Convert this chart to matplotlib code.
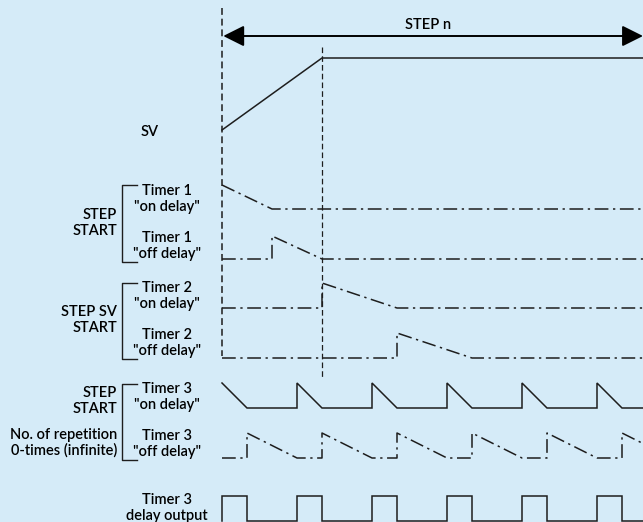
import matplotlib
matplotlib.use("Agg")
import matplotlib.pyplot as plt

# time axis in units of one delay (t=0 is step start), end of view
t_end = 16.84

# SV ramp
sv_t = [0, 4, t_end]
sv_v = [0, 1, 1]

# timer signals (level 1 = remaining delay full, 0 = elapsed)
t1_on_t = [0, 2, t_end]
t1_on_v = [1, 0, 0]
t1_off_t = [0, 2, 2, 4, t_end]
t1_off_v = [0, 0, 1, 0, 0]
t2_on_t = [0, 4, 4, 7, t_end]
t2_on_v = [0, 0, 1, 0, 0]
t2_off_t = [0, 7, 7, 10, t_end]
t2_off_v = [0, 0, 1, 0, 0]
t3_on_t = [0, 1, 3, 3, 4, 6, 6, 7, 9, 9, 10, 12, 12, 13, 15, 15, 16, t_end]
t3_on_v = [1, 0, 0, 1, 0, 0, 1, 0, 0, 1, 0, 0, 1, 0, 0, 1, 0, 0]
t3_off_t = [0, 1, 1, 3, 4, 4, 6, 7, 7, 9, 10, 10, 12, 13, 13, 15, 16, 16, t_end]
t3_off_v = [0, 0, 1, 0, 0, 1, 0, 0, 1, 0, 0, 1, 0, 0, 1, 0, 0, 1, 0.58]
t3_out_t = [0, 0, 1, 1, 3, 3, 4, 4, 6, 6, 7, 7, 9, 9, 10, 10, 12, 12, 13, 13, 15, 15, 16, 16, t_end]
t3_out_v = [0, 1, 1, 0, 0, 1, 1, 0, 0, 1, 1, 0, 0, 1, 1, 0, 0, 1, 1, 0, 0, 1, 1, 0, 0]

bg = "#d5ebf8"
ink = "#1e1e1e"
fam = ["Lato", "DejaVu Sans"]
fs = 10.5
fw = "semibold"

fig = plt.figure(figsize=(6.43, 5.22), dpi=100, facecolor=bg)
ax = fig.add_axes([0, 0, 1, 1])
ax.set_facecolor(bg)
# 1 time unit = 25 px, t=0 at x=222 px; y in pixels from top
ax.set_xlim(-222 / 25, (643 - 222) / 25)
ax.set_ylim(522, 0)
ax.axis("off")

dashdot = (0, (9, 3, 1.5, 3))


def sig(t, v, base, amp, ls="-"):
    ax.plot(t, [base - amp * x for x in v], color=ink, lw=1.1, ls=ls,
            solid_joinstyle="miter")


sig(sv_t, sv_v, 130, 72)
sig(t1_on_t, t1_on_v, 209, 24, dashdot)
sig(t1_off_t, t1_off_v, 259, 23, dashdot)
sig(t2_on_t, t2_on_v, 308, 25, dashdot)
sig(t2_off_t, t2_off_v, 358, 25, dashdot)
sig(t3_on_t, t3_on_v, 408, 25)
sig(t3_off_t, t3_off_v, 458, 25, dashdot)
sig(t3_out_t, t3_out_v, 521, 25)

# reference lines
ax.plot([0, 0], [8, 356], color=ink, lw=1.1, ls=(0, (4.5, 2.5)))
ax.plot([4, 4], [47, 378], color=ink, lw=0.9, ls=(0, (4.5, 2.5)))

# STEP n arrow
ax.annotate("", xy=(t_end, 36), xytext=(0.05, 36), annotation_clip=False,
            arrowprops=dict(arrowstyle="<|-|>,head_length=0.8,head_width=0.4",
                            color="black", lw=1.4,
                            mutation_scale=16, shrinkA=0, shrinkB=0))
ax.text((428 - 222) / 25, 25, "STEP n", ha="center", va="center",
        fontsize=fs, family=fam, weight=fw)

ax.text((150 - 222) / 25, 132, "SV", ha="center", va="center",
        fontsize=fs, family=fam, weight=fw)

# timer labels
labels = [
    ("Timer 1\n\"on delay\"", 199),
    ("Timer 1\n\"off delay\"", 246),
    ("Timer 2\n\"on delay\"", 296),
    ("Timer 2\n\"off delay\"", 343),
    ("Timer 3\n\"on delay\"", 397),
    ("Timer 3\n\"off delay\"", 444),
    ("Timer 3\ndelay output", 508),
]
for txt, y in labels:
    ax.text((167 - 222) / 25, y, txt, ha="center", va="center",
            fontsize=fs, family=fam, weight=fw, linespacing=1.1)

# brackets
for y0, y1 in [(185, 262), (283, 359), (384, 460)]:
    xa, xb = (122 - 222) / 25, (137 - 222) / 25
    ax.plot([xb, xa, xa, xb], [y0, y0, y1, y1], color=ink, lw=1.0)

groups = [
    ("STEP\nSTART", 223),
    ("STEP SV\nSTART", 320),
    ("STEP\nSTART", 401),
    ("No. of repetition\n0-times (infinite)", 443),
]
for txt, y in groups:
    ax.text((117 - 222) / 25, y, txt, ha="right", va="center",
            fontsize=fs, family=fam, weight=fw, linespacing=1.1)

fig.savefig("out.png", dpi=100, facecolor=bg)
